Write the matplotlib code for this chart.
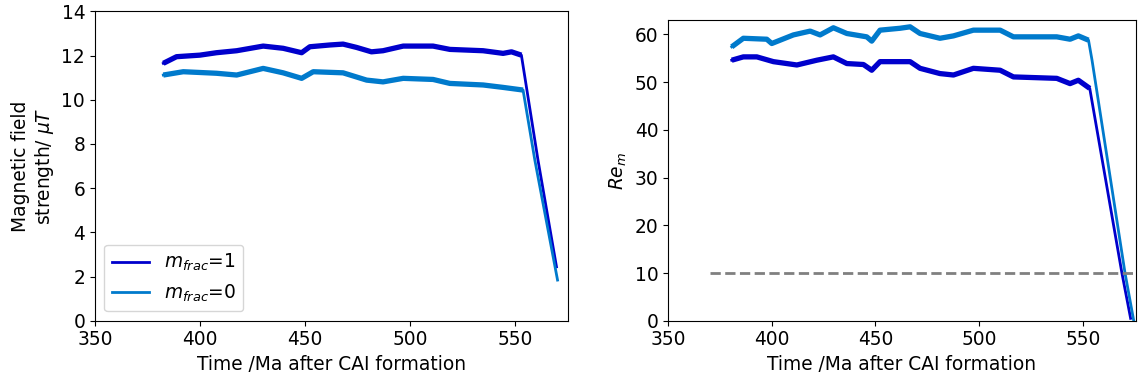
import matplotlib
matplotlib.use('Agg')
import matplotlib.pyplot as plt
from matplotlib.ticker import MultipleLocator

# left panel: magnetic field strength (muT)
t_b1 = [382.5, 388.8, 399.9, 407.8, 417.4, 430.0, 439.5, 448.3, 452.2, 461.7, 468.0,
        474.4, 481.5, 487.0, 496.6, 510.8, 518.8, 534.6, 544.1, 548.1, 552.8, 560.7, 569.5]
b1 = [11.65, 11.95, 12.02, 12.13, 12.22, 12.43, 12.33, 12.13, 12.40, 12.48, 12.52,
      12.37, 12.17, 12.22, 12.43, 12.43, 12.28, 12.22, 12.10, 12.17, 12.02, 7.27, 2.44]

t_b0 = [382.5, 392.0, 407.8, 417.4, 430.0, 439.5, 448.3, 453.8, 468.0, 479.2, 487.0,
        496.6, 510.8, 518.8, 534.6, 544.1, 553.6, 559.2, 570.0]
b0 = [11.12, 11.27, 11.20, 11.12, 11.42, 11.22, 10.97, 11.27, 11.22, 10.89, 10.81,
      10.97, 10.92, 10.74, 10.67, 10.56, 10.44, 7.27, 1.84]

# right panel: magnetic Reynolds number
t_r1 = [380.7, 386.3, 392.8, 400.8, 412.1, 421.7, 429.7, 436.2, 444.2, 448.2, 452.2,
        461.9, 466.7, 471.5, 481.1, 487.6, 497.2, 510.1, 516.5, 537.4, 543.8, 547.8,
        553.3, 568.8, 573.0]
re1 = [54.6, 55.3, 55.3, 54.3, 53.6, 54.6, 55.3, 53.9, 53.7, 52.5, 54.3,
       54.3, 54.3, 52.9, 51.8, 51.5, 52.9, 52.5, 51.1, 50.8, 49.7, 50.4,
       48.7, 10.0, 0.5]

t_r0 = [380.7, 386.3, 397.6, 400.0, 410.4, 418.5, 423.3, 429.7, 436.2, 445.8, 448.2,
        452.2, 461.9, 466.7, 471.5, 481.1, 487.6, 497.2, 510.1, 516.5, 537.4, 543.8,
        547.8, 552.7, 554.4, 570.3, 574.5]
re0 = [57.4, 59.2, 59.0, 58.1, 59.9, 60.7, 59.9, 61.4, 60.2, 59.5, 58.6,
       60.9, 61.3, 61.6, 60.2, 59.2, 59.7, 60.9, 60.9, 59.5, 59.5, 59.0,
       59.7, 58.8, 54.6, 10.0, 0.0]

re_crit = 10
t_crit = [370.2, 576]

c1 = '#0000cc'
c0 = '#007acc'

plt.rcParams['font.size'] = 13.4

fig = plt.figure(figsize=(11.4, 3.8), dpi=100)
ax1 = fig.add_axes([0.0833, 0.156, 0.415, 0.814])
ax2 = fig.add_axes([0.586, 0.156, 0.4105, 0.791])

# thick band for the noisy plateau, thinner line for the drop
ax1.plot(t_b1[:-2], b1[:-2], color=c1, lw=3.8, solid_capstyle='butt')
ax1.plot(t_b1, b1, color=c1, lw=2, label=r'$m_{frac}$=1')
ax1.plot(t_b0[:-2], b0[:-2], color=c0, lw=3.8, solid_capstyle='butt')
ax1.plot(t_b0, b0, color=c0, lw=2, label=r'$m_{frac}$=0')
ax1.set_xlim(350, 575)
ax1.set_ylim(0, 14)
ax1.xaxis.set_major_locator(MultipleLocator(50))
ax1.set_xlabel('Time /Ma after CAI formation')
ax1.set_ylabel('Magnetic field\nstrength/ $\\mu T$')
ax1.legend(loc='lower left')

ax2.plot(t_r1[:-2], re1[:-2], color=c1, lw=3.8, solid_capstyle='butt')
ax2.plot(t_r1, re1, color=c1, lw=2)
ax2.plot(t_r0[:-3], re0[:-3], color=c0, lw=3.8, solid_capstyle='butt')
ax2.plot(t_r0, re0, color=c0, lw=2)
ax2.plot(t_crit, [re_crit, re_crit], color='grey', ls='--', lw=2)
ax2.set_xlim(350, 575.6)
ax2.set_ylim(0, 63)
ax2.xaxis.set_major_locator(MultipleLocator(50))
ax2.set_xlabel('Time /Ma after CAI formation')
ax2.set_ylabel('$Re_m$')

fig.savefig('out.png', dpi=100)
